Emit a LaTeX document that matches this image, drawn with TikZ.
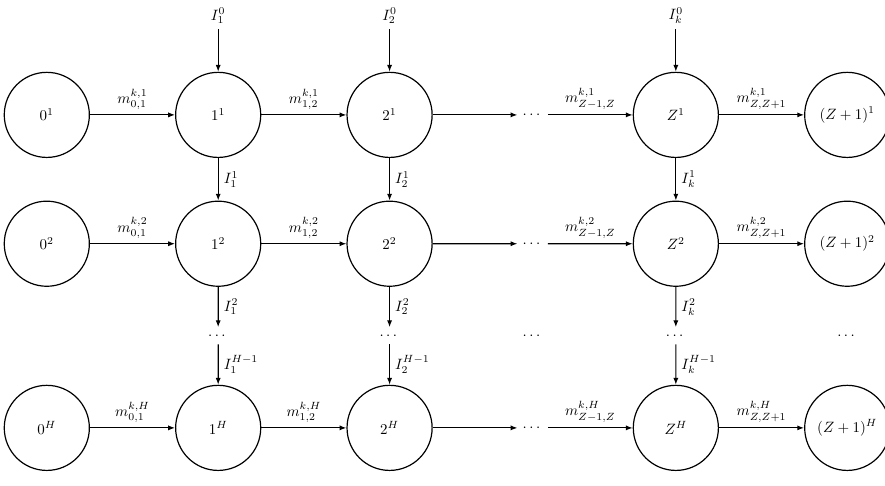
\documentclass[tikz,border=0pt]{standalone}
\usepackage{amsmath,amssymb}
\usetikzlibrary{arrows.meta,positioning,calc}

\begin{document}
\begin{tikzpicture}[
  node distance=1cm and 2cm,
  state/.style={draw, circle, thick, minimum size=2cm, inner sep=0pt},
  arr/.style={-{Latex[length=1.6mm]}, thick}
]
\useasboundingbox (-1.1,2.7) rectangle (19.7,-8.72);
% first copy
\node[state] (n01) {$0^1$};
\node[state, right=of n01] (n11) {$1^1$};
\node[state, right=of n11] (n21) {$2^1$};
\node[state, right=4.7cm of n21] (nZ1) {$Z^1$};
\node[state, right=of nZ1] (nE1) {$(Z+1)^1$};
\node (d1) at ($(n21)!0.5!(nZ1)$) {$\cdots$};
\node[above=of n11] (t1) {$I_1^0$};
\node[above=of n21] (t2) {$I_2^0$};
\node[above=of nZ1] (tZ) {$I_k^0$};
% second copy
\node[state, below=of n01] (n02) {$0^2$};
\node[state, below=of n11] (n12) {$1^2$};
\node[state, below=of n21] (n22) {$2^2$};
\node[state, below=of nZ1] (nZ2) {$Z^2$};
\node[state, below=of nE1] (nE2) {$(Z+1)^2$};
\node (d2) at ($(n22)!0.5!(nZ2)$) {$\cdots$};
% last copy
\node[state, below=2.3cm of n02] (n0H) {$0^H$};
\node[state, below=2.3cm of n12] (n1H) {$1^H$};
\node[state, below=2.3cm of n22] (n2H) {$2^H$};
\node[state, below=2.3cm of nZ2] (nZH) {$Z^H$};
\node[state, below=2.3cm of nE2] (nEH) {$(Z+1)^H$};
\node (dH) at ($(n2H)!0.5!(nZH)$) {$\cdots$};
% gap between copies
\node (v1) at ($(n12)!0.5!(n1H)$) {$\cdots$};
\node (v2) at ($(n22)!0.5!(n2H)$) {$\cdots$};
\node (vd) at ($(d2)!0.5!(dH)$) {$\cdots$};
\node (vZ) at ($(nZ2)!0.5!(nZH)$) {$\cdots$};
\node (vE) at ($(nE2)!0.5!(nEH)$) {$\cdots$};

\draw[arr] (n01) -- node[above]{$m_{0,1}^{k,1}$} (n11);
\draw[arr] (n11) -- node[above]{$m_{1,2}^{k,1}$} (n21);
\draw[arr] (n21) -- (d1);
\draw[arr] (d1) -- node[above]{$m_{Z-1,Z}^{k,1}$} (nZ1);
\draw[arr] (nZ1) -- node[above]{$m_{Z,Z+1}^{k,1}$} (nE1);

\draw[arr] (n02) -- node[above]{$m_{0,1}^{k,2}$} (n12);
\draw[arr] (n12) -- node[above]{$m_{1,2}^{k,2}$} (n22);
\draw[arr] (n22) -- (d2);
\draw[arr] (d2) -- node[above]{$m_{Z-1,Z}^{k,2}$} (nZ2);
\draw[arr] (nZ2) -- node[above]{$m_{Z,Z+1}^{k,2}$} (nE2);

\draw[arr] (n0H) -- node[above]{$m_{0,1}^{k,H}$} (n1H);
\draw[arr] (n1H) -- node[above]{$m_{1,2}^{k,H}$} (n2H);
\draw[arr] (n2H) -- (dH);
\draw[arr] (dH) -- node[above]{$m_{Z-1,Z}^{k,H}$} (nZH);
\draw[arr] (nZH) -- node[above]{$m_{Z,Z+1}^{k,H}$} (nEH);

\draw[arr] (t1) -- (n11);
\draw[arr] (n11) -- node[right]{$I_1^1$} (n12);
\draw[arr] (n12) -- node[right]{$I_1^2$} (v1);
\draw[arr] (v1) -- node[right]{$I_1^{H-1}$} (n1H);

\draw[arr] (t2) -- (n21);
\draw[arr] (n21) -- node[right]{$I_2^1$} (n22);
\draw[arr] (n22) -- node[right]{$I_2^2$} (v2);
\draw[arr] (v2) -- node[right]{$I_2^{H-1}$} (n2H);

\draw[arr] (tZ) -- (nZ1);
\draw[arr] (nZ1) -- node[right]{$I_k^1$} (nZ2);
\draw[arr] (nZ2) -- node[right]{$I_k^2$} (vZ);
\draw[arr] (vZ) -- node[right]{$I_k^{H-1}$} (nZH);
\end{tikzpicture}
\end{document}
